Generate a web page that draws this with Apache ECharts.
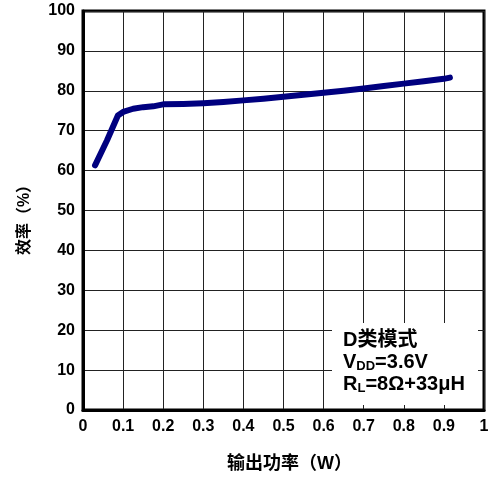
<!DOCTYPE html>
<html>
<head>
<meta charset="utf-8">
<script src="https://cdn.jsdelivr.net/npm/echarts@6/dist/echarts.min.js"></script>
<style>
html,body{margin:0;padding:0;background:#fff;}
#c{width:497px;height:478px;}
</style>
</head>
<body>
<div id="c"></div>
<script>
// Data
const powerW = [0.03, 0.06, 0.087, 0.1, 0.125, 0.15, 0.175, 0.2, 0.25, 0.3, 0.35, 0.4, 0.45, 0.5, 0.55, 0.6, 0.65, 0.7, 0.75, 0.8, 0.85, 0.9, 0.915];
const efficiency = [61.3, 67.6, 73.8, 74.7, 75.5, 75.9, 76.1, 76.6, 76.7, 76.9, 77.2, 77.6, 78.0, 78.5, 79.0, 79.5, 80.0, 80.6, 81.2, 81.8, 82.4, 83.0, 83.3];
const xTickLabels = ['0', '0.1', '0.2', '0.3', '0.4', '0.5', '0.6', '0.7', '0.8', '0.9', '1'];
const yTickLabels = ['0', '10', '20', '30', '40', '50', '60', '70', '80', '90', '100'];
const xAxisTitle = '输出功率（W）';
const yAxisTitle = '效率（%）';
const noteLines = ['{a|D类模式}', '{a|V}{s|DD}{a|=3.6V}', '{a|R}{s|L}{a|=8Ω+33μH}'];

const FONT = "'Liberation Sans', 'Noto Sans CJK SC', Arial, sans-serif";
const chart = echarts.init(document.getElementById('c'), null, {renderer: 'canvas'});

const pts = powerW.map((x, i) => [x, efficiency[i]]);
const richStyle = {
  a: {fontSize: 20, fontWeight: 'bold', fontFamily: FONT, fill: '#000', lineHeight: 22},
  s: {fontSize: 13, fontWeight: 'bold', fontFamily: FONT, fill: '#000', lineHeight: 22, verticalAlign: 'bottom'}
};

chart.setOption({
  animation: false,
  backgroundColor: '#fff',
  grid: {left: 83, right: 13, top: 11, bottom: 67, show: true, borderColor: '#000', borderWidth: 3, backgroundColor: 'transparent'},
  xAxis: {
    type: 'value', min: 0, max: 1, interval: 0.1,
    name: xAxisTitle, nameLocation: 'middle', nameGap: 45,
    nameTextStyle: {fontSize: 18, fontWeight: 'bold', fontFamily: FONT, color: '#000', padding: [0, 0, 0, 12]},
    axisLine: {show: true, lineStyle: {color: '#000', width: 3}},
    axisTick: {show: false},
    axisLabel: {
      margin: 9, fontSize: 16, fontWeight: 'bold', fontFamily: FONT, color: '#000',
      formatter: (v) => xTickLabels[Math.round(v * 10)]
    },
    splitLine: {show: true, lineStyle: {color: '#222', width: 1}}
  },
  yAxis: {
    type: 'value', min: 0, max: 100, interval: 10,
    axisLine: {show: true, lineStyle: {color: '#000', width: 3}},
    axisTick: {show: false},
    axisLabel: {
      margin: 8, fontSize: 16, fontWeight: 'bold', fontFamily: FONT, color: '#000',
      formatter: (v) => yTickLabels[Math.round(v / 10)]
    },
    splitLine: {show: true, lineStyle: {color: '#222', width: 1}}
  },
  graphic: [
    {type: 'rect', z: 100, shape: {x: 332, y: 323, width: 146, height: 82}, style: {fill: '#fff'}},
    {type: 'text', z: 101, x: 343, y: 340, style: {text: noteLines[0], rich: richStyle, verticalAlign: 'middle'}},
    {type: 'text', z: 101, x: 343, y: 362, style: {text: noteLines[1], rich: richStyle, verticalAlign: 'middle'}},
    {type: 'text', z: 101, x: 343, y: 384, style: {text: noteLines[2], rich: richStyle, verticalAlign: 'middle'}},
    {type: 'text', z: 101, x: 25, y: 216, rotation: Math.PI / 2,
     style: {text: yAxisTitle, fontSize: 16, fontWeight: 'bold', fontFamily: FONT, fill: '#000', align: 'center', verticalAlign: 'middle'}}
  ],
  series: [{
    type: 'line', data: pts, showSymbol: false, smooth: false,
    lineStyle: {color: '#00007f', width: 6, cap: 'round', join: 'round'},
    z: 5
  }]
});
</script>
</body>
</html>
